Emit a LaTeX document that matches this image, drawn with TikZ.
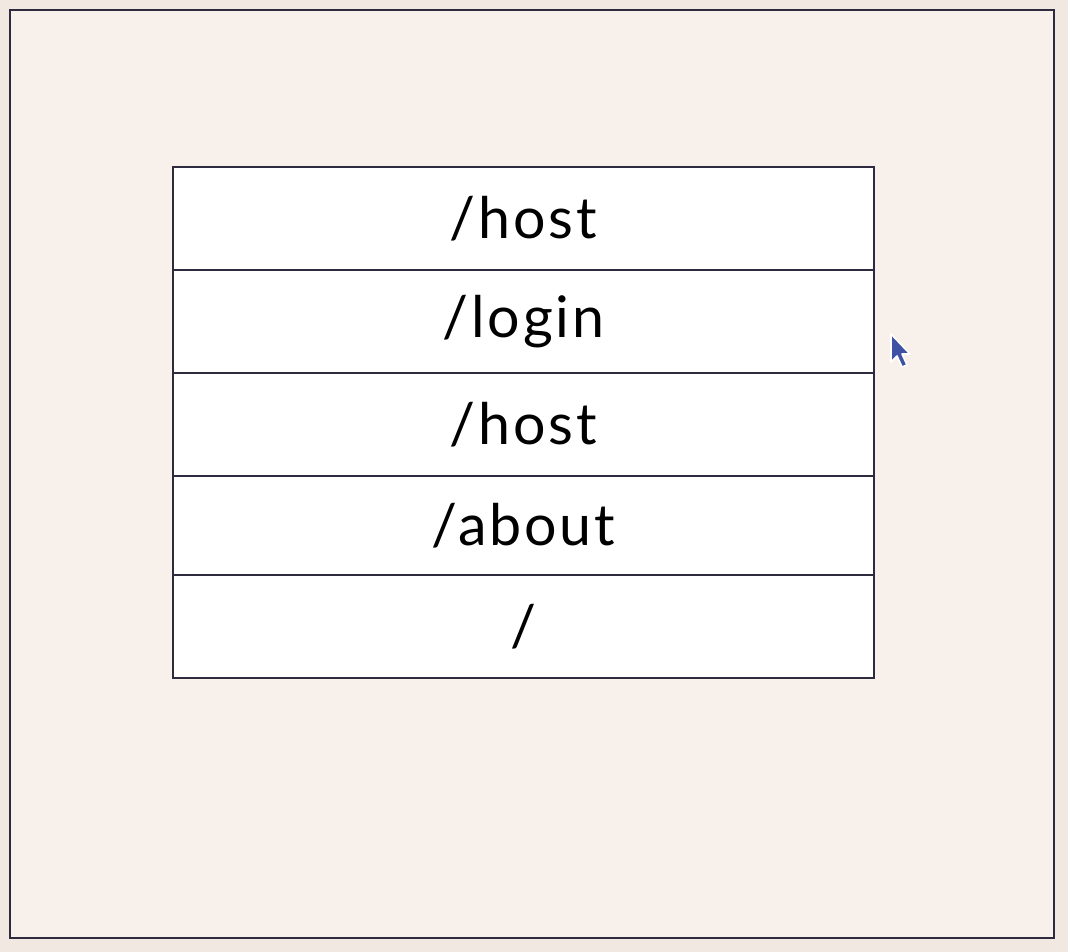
\documentclass[tikz,border=0pt]{standalone}
\usepackage{fontspec}
\setmainfont{Lato}[LetterSpace=5]
\usetikzlibrary{positioning}
\definecolor{pagebg}{HTML}{F1E8E2}
\definecolor{framebg}{HTML}{F8F0EB}
\definecolor{inkline}{HTML}{2E2B3F}
\definecolor{cursorblue}{HTML}{3F51A3}
\tikzset{
  routebox/.style={rectangle,draw=inkline,line width=1.2pt,fill=white,outer sep=0pt,minimum width=701*0.75pt,minimum height=103*0.75pt,inner sep=0pt,font=\fontsize{43}{50}\selectfont}
}
\begin{document}
\begin{tikzpicture}[x=0.75pt,y=-0.75pt]
        % fond et cadre
        \fill[pagebg] (0,0) rectangle (1068,952);
        \draw[inkline,line width=1.2pt,fill=framebg] (10,10) rectangle (1054,938);
        
        % pile des routes
        \node[routebox] (r1) at (523.5,218.5) {/host};
        \node[routebox,below=0pt of r1] (r2) {/login};
        \node[routebox,below=0pt of r2] (r3) {/host};
        \node[routebox,below=0pt of r3,minimum height=99*0.75pt] (r4) {/about};
        \node[routebox,below=0pt of r4] (r5) {/};
        
        % curseur
        \draw[white,line width=1.2pt,line join=round,fill=cursorblue]
          (891,334) -- (891,362) -- (897,356) -- (902,367) -- (907,365) -- (902,354) -- (910,354) -- cycle;
\end{tikzpicture}
\end{document}
